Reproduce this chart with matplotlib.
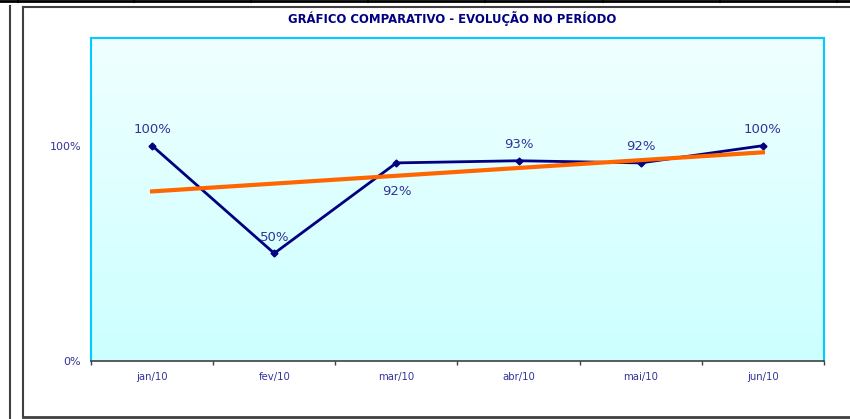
import numpy as np
import matplotlib
matplotlib.use("Agg")
import matplotlib.pyplot as plt
from matplotlib.colors import LinearSegmentedColormap
from matplotlib.lines import Line2D

# data
months = ['jan/10', 'fev/10', 'mar/10', 'abr/10', 'mai/10', 'jun/10']
values = [1.00, 0.50, 0.92, 0.93, 0.92, 1.00]
value_labels = ['100%', '50%', '92%', '93%', '92%', '100%']
label_side = ['above', 'above', 'below', 'above', 'above', 'above']
y_ticks = [0.0, 1.0]
y_tick_labels = ['0%', '100%']
title = 'GRÁFICO COMPARATIVO - EVOLUÇÃO NO PERÍODO'

W, H = 850, 419
fig = plt.figure(figsize=(W / 100, H / 100), dpi=100)
fig.patch.set_facecolor('white')

def px(x, y):
    return x / W, 1 - y / H

# frame lines around the chart (pixel coords)
gray = '#404040'
def fline(x0, y0, x1, y1, c=gray, lw=1.5):
    (a, b), (c2, d) = px(x0, y0), px(x1, y1)
    fig.add_artist(Line2D([a, c2], [b, d], color=c, lw=lw, transform=fig.transFigure))

fline(0, 1.2, W, 1.2, c='black', lw=2)
for xv in [18, 134, 251, 368, 485, 603, 720, 837]:
    fline(xv, 0, xv, 2.5, c='black', lw=1.5)
fline(10, 6, 10, 418)
fline(23, 7, W, 7)
fline(23, 7, 23, 417)
fline(23, 417, W, 417, lw=2)

ax = fig.add_axes([91 / W, 1 - 361 / H, (824 - 91) / W, (361 - 38) / H])
x = np.arange(len(months))

# gradient background
cmap = LinearSegmentedColormap.from_list('bg', ['#CCFFFF', '#F0FFFF'])
ax.imshow(np.linspace(0, 1, 256)[:, None], extent=(0, 1, 0, 1), origin='lower',
          transform=ax.transAxes, aspect='auto', cmap=cmap, zorder=0)

navy = '#000080'
lab = '#333399'

ax.plot(x, values, color=navy, lw=2, marker='D', ms=3.5, zorder=3)
coef = np.polyfit(x + 1, values, 1)
ax.plot(x, np.polyval(coef, x + 1), color='#FF6600', lw=3, zorder=4)

for xi, v, t, s in zip(x, values, value_labels, label_side):
    off = 16 if s == 'above' else -29
    ax.annotate(t, (xi, v), xytext=(0, off * 0.72), textcoords='offset points',
                ha='center', va='center', fontsize=9.5, color=lab, zorder=5)

ax.set_xlim(-0.5, len(months) - 0.5)
ax.set_ylim(0, 1.5)
ax.set_xticks(x)
ax.set_xticklabels(months, fontsize=7.3, color=lab)
ax.set_xticks(np.arange(-0.5, len(months)), minor=True)
ax.tick_params(axis='x', which='major', length=0, pad=8)
ax.tick_params(axis='x', which='minor', length=3, color=gray, width=1)
ax.set_yticks(y_ticks)
ax.set_yticklabels(y_tick_labels, fontsize=8, color=lab)
ax.tick_params(axis='y', length=0, pad=7)

for side in ['left', 'right', 'top']:
    ax.spines[side].set_color('#00CCFF')
    ax.spines[side].set_linewidth(1.5)
ax.spines['bottom'].set_color(gray)
ax.spines['bottom'].set_linewidth(1.2)

tx, ty = px(452, 19)
fig.text(tx, ty, title, ha='center', va='center', fontsize=8.4,
         fontweight='bold', color=navy)

fig.savefig('out.png', dpi=100)
